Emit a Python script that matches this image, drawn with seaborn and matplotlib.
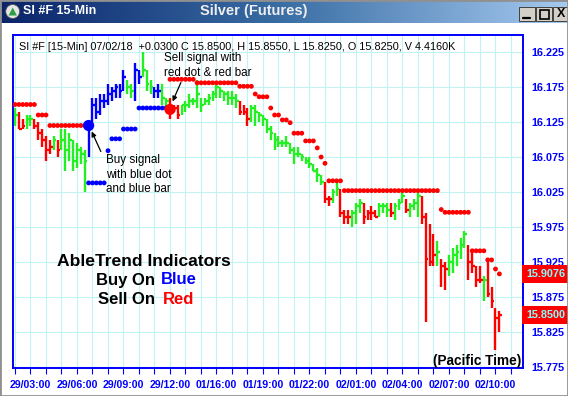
import matplotlib
matplotlib.use("Agg")
import matplotlib.pyplot as plt
import numpy as np
import pandas as pd
import seaborn as sns
from matplotlib.patches import Rectangle, Circle, Polygon
from matplotlib.colors import LinearSegmentedColormap

# ---------------- data (15-min bars of SI #F) ----------------
bar_start_hour = -1.0          # first bar, hours after 29/03:00 (bar axis)
bar_minutes = 15

highs = [
    16.145, 16.140, 16.130, 16.135, 16.135, 16.130, 16.125, 16.115, 16.105, 16.100,
    16.105, 16.100, 16.115, 16.115, 16.110, 16.100, 16.095, 16.090, 16.085, 16.120,
    16.160, 16.160, 16.165, 16.165, 16.180, 16.175, 16.180, 16.180, 16.200, 16.185,
    16.180, 16.210, 16.200, 16.225, 16.200, 16.185, 16.175, 16.180, 16.180, 16.160,
    16.160, 16.150, 16.150, 16.150, 16.155, 16.165, 16.160, 16.185, 16.160, 16.160,
    16.165, 16.170, 16.180, 16.175, 16.170, 16.170, 16.170, 16.165, 16.155, 16.150,
    16.145, 16.150, 16.150, 16.140, 16.135, 16.130, 16.120, 16.110, 16.105, 16.100,
    16.105, 16.095, 16.090, 16.090, 16.080, 16.075, 16.075, 16.065, 16.060, 16.050,
    16.040, 16.020, 16.030, 16.040, 16.030, 16.000, 16.000, 16.000, 16.010, 16.015,
    16.010, 16.000, 16.005, 16.000, 16.010, 16.010, 16.010, 16.010, 16.010, 16.015,
    16.025, 16.015, 16.010, 16.015, 16.025, 16.020, 15.995, 15.980, 15.965, 15.955,
    15.930, 15.925, 15.935, 15.945, 15.950, 15.960, 15.970, 15.950, 15.940, 15.920,
    15.920, 15.905, 15.925, 15.890, 15.860, 15.855]

lows = [
    16.120, 16.115, 16.115, 16.115, 16.120, 16.115, 16.100, 16.090, 16.070, 16.080,
    16.085, 16.075, 16.085, 16.055, 16.070, 16.055, 16.060, 16.065, 16.025, 16.075,
    16.125, 16.130, 16.135, 16.145, 16.150, 16.155, 16.160, 16.160, 16.170, 16.165,
    16.160, 16.155, 16.180, 16.190, 16.170, 16.165, 16.160, 16.160, 16.150, 16.145,
    16.130, 16.140, 16.130, 16.135, 16.140, 16.145, 16.150, 16.145, 16.140, 16.150,
    16.150, 16.155, 16.160, 16.160, 16.155, 16.150, 16.150, 16.145, 16.135, 16.135,
    16.120, 16.125, 16.120, 16.125, 16.120, 16.110, 16.100, 16.085, 16.090, 16.090,
    16.090, 16.080, 16.065, 16.075, 16.070, 16.065, 16.060, 16.055, 16.040, 16.035,
    16.010, 16.005, 16.010, 16.020, 15.990, 15.980, 15.980, 15.975, 15.980, 15.995,
    15.980, 15.985, 15.985, 15.990, 15.990, 15.995, 15.990, 15.990, 15.985, 16.000,
    16.010, 15.995, 15.990, 16.000, 15.990, 15.980, 15.840, 15.920, 15.920, 15.920,
    15.890, 15.885, 15.905, 15.910, 15.920, 15.930, 15.945, 15.900, 15.910, 15.890,
    15.895, 15.870, 15.875, 15.860, 15.800, 15.825]

closes = [
    16.135, 16.115, 16.120, 16.130, 16.130, 16.120, 16.110, 16.100, 16.085, 16.090,
    16.100, 16.085, 16.100, 16.085, 16.100, 16.070, 16.085, 16.080, 16.070, 16.115,
    16.150, 16.140, 16.155, 16.155, 16.165, 16.170, 16.175, 16.170, 16.190, 16.175,
    16.170, 16.200, 16.190, 16.200, 16.180, 16.175, 16.170, 16.170, 16.160, 16.155,
    16.140, 16.145, 16.135, 16.150, 16.150, 16.155, 16.155, 16.165, 16.150, 16.155,
    16.160, 16.165, 16.175, 16.170, 16.165, 16.160, 16.160, 16.155, 16.140, 16.140,
    16.130, 16.145, 16.140, 16.135, 16.130, 16.115, 16.110, 16.100, 16.095, 16.095,
    16.095, 16.085, 16.080, 16.080, 16.075, 16.070, 16.065, 16.055, 16.050, 16.040,
    16.015, 16.015, 16.025, 16.030, 15.995, 15.990, 15.990, 15.995, 16.005, 16.010,
    15.990, 15.995, 15.995, 15.990, 16.005, 16.005, 16.000, 15.995, 16.005, 16.010,
    16.020, 16.000, 16.005, 16.010, 16.020, 15.990, 15.930, 15.925, 15.935, 15.940,
    15.920, 15.915, 15.925, 15.935, 15.940, 15.950, 15.965, 15.925, 15.920, 15.900,
    15.900, 15.900, 15.880, 15.870, 15.845, 15.850]

# bar colour codes: G = neutral (green), B = buy (blue), R = sell (red)
bar_codes = list(
    "GRRGGRRRRRGRGGGGGGG"
    "BBBBBBBBBBGGBBGGGBBGG"
    "RRRGGGGGGGGGGGGGGGRRR"
    "GGGGGGGGGGGGGGGGGGG"
    "RRGGRRRGGGRRRRGGGRGGG"
    "RGGGRRRRGRRGGGGGRRRRGRRRR")

# AbleTrend stop dots
stops = [
    16.150, 16.150, 16.150, 16.150, 16.150, 16.150, 16.135, 16.135, 16.135, 16.120,
    16.120, 16.120, 16.120, 16.120, 16.120, 16.120, 16.120, 16.120, 16.120, 16.038,
    16.038, 16.038, 16.038, 16.038, 16.084, 16.101, 16.101, 16.101, 16.115, 16.115,
    16.115, 16.115, 16.145, 16.145, 16.145, 16.145, 16.145, 16.145, 16.145, 16.145,
    16.186, 16.186, 16.186, 16.186, 16.186, 16.186, 16.186, 16.181, 16.181, 16.181,
    16.181, 16.181, 16.181, 16.181, 16.181, 16.181, 16.181, 16.181, 16.176, 16.176,
    16.176, 16.176, 16.165, 16.161, 16.161, 16.161, 16.145, 16.135, 16.135, 16.128,
    16.128, 16.124, 16.109, 16.109, 16.109, 16.098, 16.098, 16.098, 16.088, 16.075,
    16.066, 16.041, 16.041, 16.041, 16.041, 16.027, 16.027, 16.027, 16.027, 16.027,
    16.027, 16.027, 16.027, 16.027, 16.027, 16.027, 16.027, 16.027, 16.027, 16.027,
    16.027, 16.027, 16.027, 16.027, 16.027, 16.027, 16.027, 16.027, 16.027, 16.027,
    16.000, 15.996, 15.996, 15.996, 15.996, 15.996, 15.996, 15.996, 15.941, 15.941,
    15.941, 15.941, 15.928, 15.928, 15.915, 15.908]

buy_signal_bar, buy_signal_price = 19, 16.120
sell_signal_bar, sell_signal_price = 40, 16.143

y_ticks = [15.775, 15.825, 15.875, 15.925, 15.975, 16.025, 16.075, 16.125, 16.175, 16.225]
x_tick_hours = [0, 3, 6, 9, 12, 15, 18, 21, 24, 27, 30]
x_tick_labels = ["29/03:00", "29/06:00", "29/09:00", "29/12:00", "01/16:00", "01/19:00",
                 "01/22:00", "02/01:00", "02/04:00", "02/07:00", "02/10:00"]
last_stop_label = "15.9076"
last_close_label = "15.8500"
header = "SI #F [15-Min] 07/02/18  +0.0300 C 15.8500, H 15.8550, L 15.8250, O 15.8250, V 4.4160K"

# ---------------- frame ----------------
W, H = 568, 396
sns.set_theme(style="white")
plt.rcParams['font.family'] = ['Liberation Sans', 'DejaVu Sans']

fig = plt.figure(figsize=(W / 100, H / 100), dpi=100)
fig.patch.set_facecolor('white')

def fx(px):
    return px / W

def fy(py):
    return 1 - py / H

# plot area in pixels
L, R, T, B = 13, 523, 35, 368
PX_PER_H, PX0 = 15.5, 30.5          # pixel of hour 0
PX_PER_P, P0 = 700.0, 16.2993       # price at pixel row 0

def px2d(px, py):
    return (px - PX0) / PX_PER_H, P0 - py / PX_PER_P

ax = fig.add_axes([fx(L), fy(B), (R - L) / W, (B - T) / H])
ax.set_facecolor('white')
ax.set_xlim(px2d(L, 0)[0], px2d(R, 0)[0])
ax.set_ylim(px2d(0, B)[1], px2d(0, T)[1])

df = pd.DataFrame({
    'hour': bar_start_hour + np.arange(len(highs)) * bar_minutes / 60.0,
    'high': highs, 'low': lows, 'close': closes,
    'code': bar_codes, 'stop': stops,
})
idx = np.arange(len(df))
df['side'] = np.where((idx >= buy_signal_bar) & (idx < sell_signal_bar), 'buy', 'sell')

cmap_codes = {'G': '#22F022', 'R': '#FF0000', 'B': '#0000FF'}
cols = df['code'].map(cmap_codes).tolist()

# grid
ax.set_xticks(np.arange(-1, 32))
ax.set_yticks(y_ticks)
ax.grid(True, color='#C2F2F2', lw=0.8, zorder=0)
ax.set_axisbelow(True)

# bars
ax.vlines(df['hour'], df['low'], df['high'], colors=cols, lw=1.7, zorder=2)
ax.hlines(df['close'], df['hour'], df['hour'] + 0.17, colors=cols, lw=1.7, zorder=2)

# stop dots
sns.scatterplot(data=df, x='hour', y='stop', hue='side',
                palette={'buy': '#0000FF', 'sell': '#FF0000'},
                marker='o', s=12, linewidth=0, legend=False, ax=ax, zorder=3)

# signal dots
sig = pd.DataFrame({
    'hour': [df['hour'][buy_signal_bar], df['hour'][sell_signal_bar]],
    'price': [buy_signal_price, sell_signal_price],
    'kind': ['buy', 'sell']})
sns.scatterplot(data=sig, x='hour', y='price', hue='kind',
                palette={'buy': '#0000FF', 'sell': '#FF0000'},
                s=65, linewidth=0, legend=False, ax=ax, zorder=4)

ax.set_xlabel('')
ax.set_ylabel('')

# axes styling
for s in ax.spines.values():
    s.set_color('#0000FF')
    s.set_linewidth(1.4)
    s.set_visible(True)

labels = []
for h in range(-1, 32):
    labels.append(x_tick_labels[x_tick_hours.index(h)] if h in x_tick_hours else '')
ax.set_xticklabels(labels)
ax.tick_params(axis='x', direction='out', length=4, width=0.8, color='#0000FF',
               pad=5, labelsize=7.6, labelcolor='#0000FF', bottom=True)
for t in ax.get_xticklabels():
    t.set_fontweight('bold')

ax.yaxis.tick_right()
ax.set_yticklabels([f"{v:.3f}" for v in y_ticks])
ax.tick_params(axis='y', length=0, pad=6, labelsize=7.8, labelcolor='#0000FF', right=True)
for t in ax.get_yticklabels():
    t.set_fontweight('bold')

# annotations
ax.annotate('', xy=px2d(90.5, 129), xytext=px2d(102, 154),
            arrowprops=dict(arrowstyle='-|>', color='black', lw=0.9, mutation_scale=7), zorder=5)
ax.annotate('', xy=px2d(171.5, 104), xytext=px2d(182, 80),
            arrowprops=dict(arrowstyle='-|>', color='black', lw=0.9, mutation_scale=7), zorder=5)

for i, line in enumerate(["Buy signal", "with blue dot", "and blue bar"]):
    fig.text(fx(106), fy(160.5 + 14 * i), line, fontsize=8.4, va='center', ha='left', color='black')
for i, line in enumerate(["Sell signal with", "red dot & red bar"]):
    fig.text(fx(163.5), fy(58.5 + 14 * i), line, fontsize=8.4, va='center', ha='left', color='black')

fig.text(fx(143.5), fy(261), "AbleTrend Indicators", fontsize=12.6, fontweight='bold',
         ha='center', va='center', color='black')
fig.text(fx(154.5), fy(280), "Buy On", fontsize=12, fontweight='bold', ha='right', va='center', color='black')
fig.text(fx(160.5), fy(280), "Blue", fontsize=12, fontweight='bold', ha='left', va='center', color='#0000FF')
fig.text(fx(155.5), fy(299), "Sell On", fontsize=12, fontweight='bold', ha='right', va='center', color='black')
fig.text(fx(162.5), fy(299), "Red", fontsize=12, fontweight='bold', ha='left', va='center', color='#FF0000')

fig.text(fx(521), fy(361), "(Pacific Time)", fontsize=9.8, fontweight='bold', ha='right', va='center', color='black')
fig.text(fx(19), fy(46.5), header, fontsize=7.8, ha='left', va='center', color='black')

# right-hand value boxes
for lab, cy in [(last_stop_label, 274), (last_close_label, 314.5)]:
    fig.patches.append(Rectangle((fx(522), fy(cy + 9)), (568 - 522) / W, 18 / H,
                                 transform=fig.transFigure, facecolor='#FF0000', edgecolor='none', zorder=5))
    fig.text(fx(526), fy(cy), lab, fontsize=7.8, fontweight='bold', ha='left', va='center',
             color='#80FFFF', zorder=6)

# title bar
tb_h = 23
tax = fig.add_axes([0, fy(tb_h), 1, tb_h / H])
grad = np.linspace(0, 1, 256)[None, :]
tcmap = LinearSegmentedColormap.from_list('tb', ['#0A246A', '#3A6EA5', '#A6CAF0'])
tax.imshow(grad, aspect='auto', cmap=tcmap, extent=[0, W, 0, tb_h])
tax.set_xlim(0, W)
tax.set_ylim(0, tb_h)
tax.axis('off')
tax.add_patch(Circle((12.7, 11.5), 7, facecolor='#E6E6E6', edgecolor='#505050', lw=0.6))
tax.add_patch(Polygon([[8.5, 7.5], [12.7, 15.5], [16.9, 7.5]], closed=True, facecolor='#2EA043', edgecolor='none'))
tax.text(23, 11.5, "SI #F 15-Min", fontsize=9, fontweight='bold', color='white', va='center', ha='left')
tax.text(254, 11.5, "Silver (Futures)", fontsize=10.5, fontweight='bold', color='#EEEEEE', va='center', ha='center')
for bx in [519, 536, 553]:
    tax.add_patch(Rectangle((bx, 2), 16, 14, facecolor='#D4D0C8', edgecolor='#404040', lw=0.7))
tax.plot([523, 530], [5, 5], color='black', lw=1.6)
tax.add_patch(Rectangle((539.5, 4.5), 9, 9, facecolor='none', edgecolor='black', lw=1.2))
tax.text(561, 9.2, "X", fontsize=9, fontweight='bold', color='black', ha='center', va='center')

# window border
fig.patches.append(Rectangle((0, 0), 1, 1, transform=fig.transFigure, fill=False,
                             edgecolor='#909090', lw=2, zorder=10))

fig.savefig('out.png', dpi=100, facecolor='white')
